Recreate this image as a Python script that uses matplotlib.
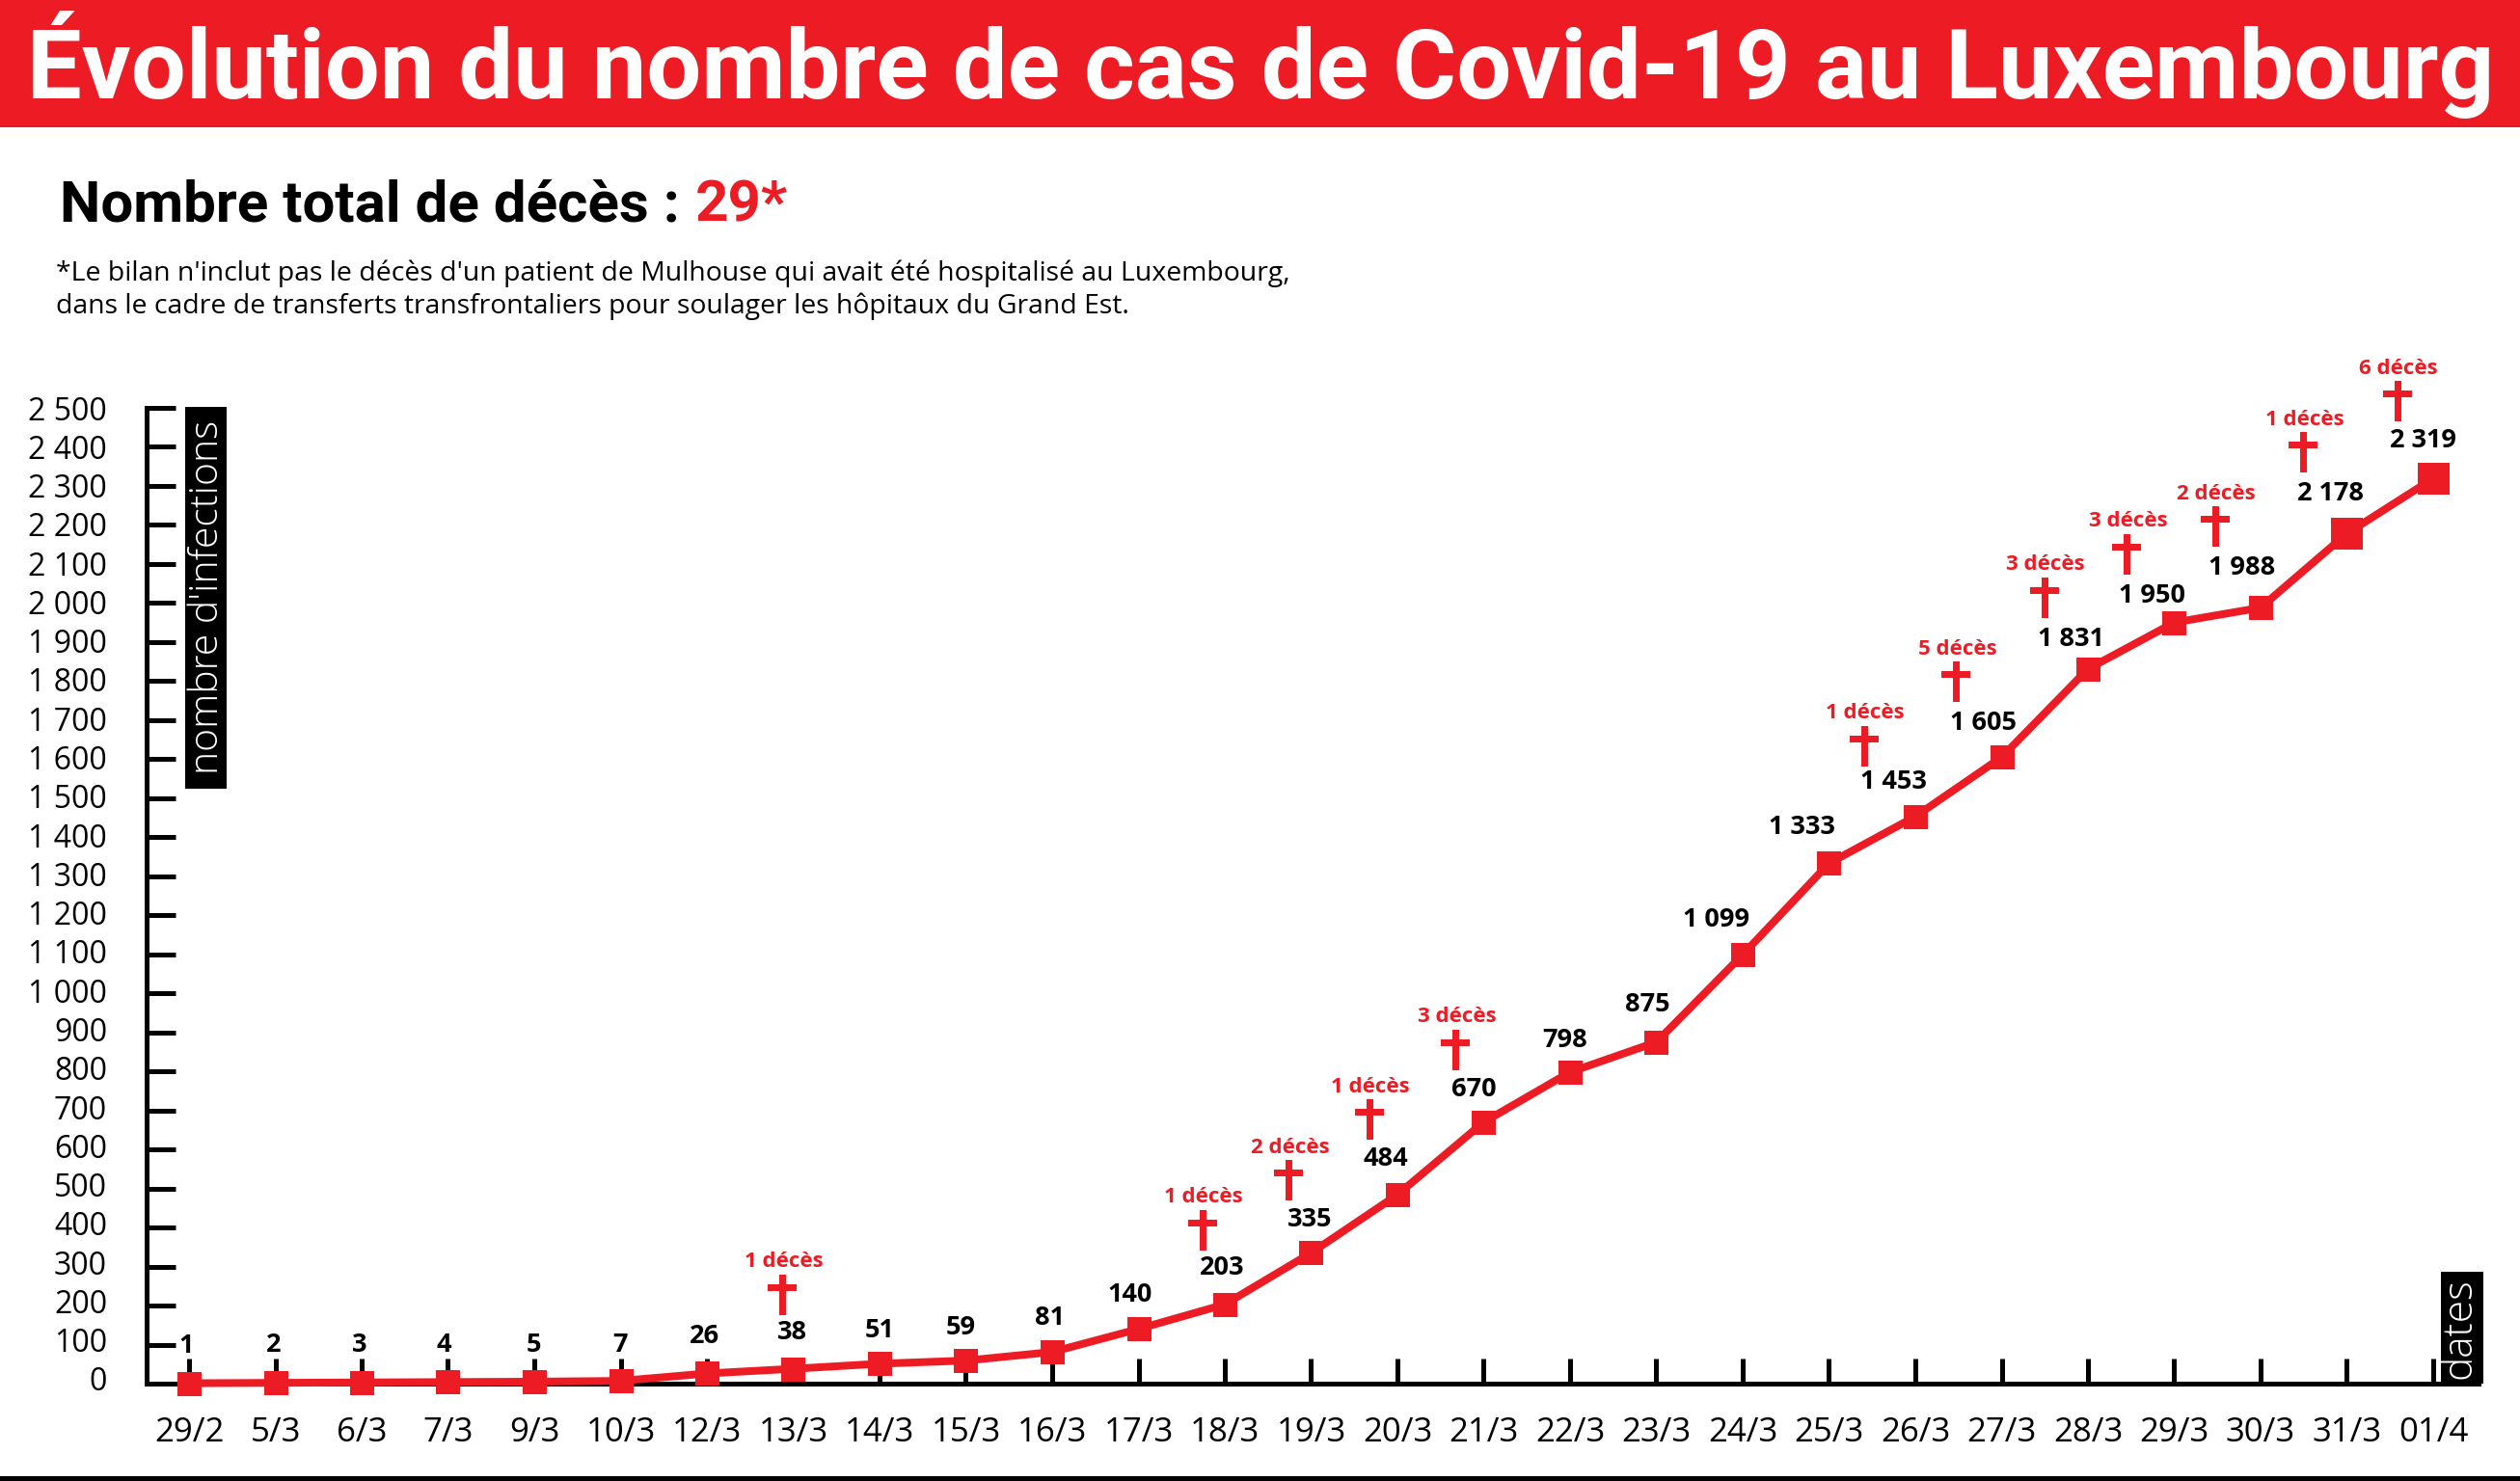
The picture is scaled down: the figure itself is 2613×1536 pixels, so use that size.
import matplotlib
matplotlib.use("Agg")
import matplotlib.pyplot as plt
from matplotlib.path import Path
from matplotlib.patches import Rectangle
from matplotlib.transforms import offset_copy, Affine2D

ROUGE = "#ED1C24"
plt.rcParams['font.family'] = ['Open Sans', 'DejaVu Sans']

dates = ["29/2", "5/3", "6/3", "7/3", "9/3", "10/3", "12/3", "13/3", "14/3",
         "15/3", "16/3", "17/3", "18/3", "19/3", "20/3", "21/3", "22/3", "23/3",
         "24/3", "25/3", "26/3", "27/3", "28/3", "29/3", "30/3", "31/3", "01/4"]
cas = [1, 2, 3, 4, 5, 7, 26, 38, 51, 59, 81, 140, 203, 335, 484, 670, 798, 875,
       1099, 1333, 1453, 1605, 1831, 1950, 1988, 2178, 2319]
cas_txt = ["1", "2", "3", "4", "5", "7", "26", "38", "51", "59", "81", "140",
           "203", "335", "484", "670", "798", "875", "1 099", "1 333", "1 453",
           "1 605", "1 831", "1 950", "1 988", "2 178", "2 319"]
deces_dates = ["13/3", "18/3", "19/3", "20/3", "21/3", "26/3", "27/3", "28/3",
               "29/3", "30/3", "31/3", "01/4"]
deces = [1, 1, 2, 1, 3, 1, 5, 3, 3, 2, 1, 6]
y_ticks = list(range(0, 2600, 100))
y_labels = ["0", "100", "200", "300", "400", "500", "600", "700", "800", "900",
            "1 000", "1 100", "1 200", "1 300", "1 400", "1 500", "1 600", "1 700",
            "1 800", "1 900", "2 000", "2 100", "2 200", "2 300", "2 400", "2 500"]

# decalage des etiquettes par rapport au point, en pixels
dec_val = [(-3, 39), (-2, 39), (-2, 39), (-4, 38), (-1, 38), (0, 37), (-3, 38),
           (-1, 38), (0, 34), (-5, 34), (-3, 35), (-9, 35), (-3, 38), (-1, 34),
           (-12, 37), (-10, 34), (-5, 33), (-9, 39), (-27, 36), (-28, 37),
           (-23, 36), (-19, 35), (-18, 31), (-23, 28), (-19, 41), (-17, 41),
           (-10, 39)]
dec_croix = [(-11, 56), (-23, 56), (-23, 54), (-29, 57), (-29, 54), (-53, 52),
             (-47, 57), (-45, 53), (-49, 50), (-47, 63), (-45, 63), (-37, 59)]

W, H = 2613, 1536
fig = plt.figure(figsize=(W / 100, H / 100), dpi=100)
px = 72 / 100  # un pixel en points

# bandeau du titre
fig.add_artist(Rectangle((0, 1 - 132 / H), 1, 132 / H, transform=fig.transFigure,
                         fc=ROUGE, ec="none"))
fig.text(28 / W, 1 - 102 / H, "Évolution du nombre de cas de Covid-19 au Luxembourg",
         color="white", fontsize=72.6, fontweight="bold", family="Roboto",
         ha="left", va="baseline")
fig.text(62 / W, 1 - 229 / H, "Nombre total de décès :", color="black", fontsize=43.2,
         fontweight="bold", family="Roboto", ha="left", va="baseline")
fig.text(721 / W, 1 - 229 / H, "29*", color=ROUGE, fontsize=43.2, fontweight="bold",
         family="Roboto", ha="left", va="baseline")
fig.text(58 / W, 1 - 291 / H,
         "*Le bilan n'inclut pas le décès d'un patient de Mulhouse qui avait été hospitalisé au Luxembourg,",
         fontsize=20.4, ha="left", va="baseline")
fig.text(58 / W, 1 - 325 / H,
         "dans le cadre de transferts transfrontaliers pour soulager les hôpitaux du Grand Est.",
         fontsize=20.4, ha="left", va="baseline")
fig.add_artist(Rectangle((0, 0), 1, 5 / H, transform=fig.transFigure, fc="black", ec="none"))

# axes : 0 a y=1435px, 2500 a y=423px, premier point x=196px, dernier x=2523px
ax = fig.add_axes([152 / W, (H - 1435) / H, (2570 - 152) / W, 1012 / H])
pas = (2523 - 196) / 26
ax.set_xlim(-(196 - 152) / pas, 26 + (2570 - 2523) / pas)
ax.set_ylim(0, 2500)
ax.patch.set_alpha(0)
for s in ["top", "right"]:
    ax.spines[s].set_visible(False)
for s in ["left", "bottom"]:
    ax.spines[s].set_linewidth(5 * px)

x = list(range(len(dates)))
ax.set_xticks(x, dates)
ax.set_yticks(y_ticks, y_labels)
ax.tick_params(axis="x", direction="in", length=26 * px, width=5 * px, pad=34 * px,
               labelsize=25)
ax.tick_params(axis="y", direction="in", length=30 * px, width=5 * px, pad=41 * px,
               labelsize=23)
# les etiquettes de l'axe y sont un peu plus haut que les tirets en bas de l'axe
for v, lab in zip(y_ticks, ax.get_yticklabels()):
    lab.set_transform(lab.get_transform() + Affine2D().translate(0, 5 * (1 - v / 2500)))

# boites noires
ax.add_artist(Rectangle((192 / W, (H - 818) / H), 43 / W, 396 / H, transform=fig.transFigure,
                        fc="black", ec="none", clip_on=False))
fig.text(215 / W, (H - 619) / H, "nombre d'infections", color="white", fontsize=29.5,
         fontweight="light", rotation=90, ha="center", va="center")
ax.add_artist(Rectangle((2531 / W, (H - 1435) / H), 44 / W, 116 / H, transform=fig.transFigure,
                        fc="black", ec="none", clip_on=False))
fig.text(2550 / W, (H - 1378) / H, "dates", color="white", fontsize=30.5,
         fontweight="light", rotation=90, ha="center", va="center")

# courbe
ax.plot(x, cas, color=ROUGE, lw=8 * px, marker="s", ms=25 * px, mew=0, clip_on=False, zorder=5)
ax.plot(x[-2:], cas[-2:], color=ROUGE, ls="none", marker="s", ms=33 * px, mew=0,
        clip_on=False, zorder=5)

for i, t in enumerate(cas_txt):
    ax.annotate(t, (x[i], cas[i]), xytext=(dec_val[i][0] * px, dec_val[i][1] * px),
                textcoords="offset points", ha="center", va="center", fontsize=19.5,
                fontweight="bold", color="black", zorder=6, annotation_clip=False)

# croix : centre en (0,0), hauteur 42 px, barre 30 px
croix = Path([(-3.5, -21), (3.5, -21), (3.5, 4.5), (15, 4.5), (15, 11.5), (3.5, 11.5),
              (3.5, 21), (-3.5, 21), (-3.5, 11.5), (-15, 11.5), (-15, 4.5), (-3.5, 4.5),
              (-3.5, -21)], closed=True)
for d, n, (dx, dy) in zip(deces_dates, deces, dec_croix):
    i = dates.index(d)
    tr = offset_copy(ax.transData, fig=fig, x=dx * px, y=(dy + 21) * px, units="points")
    ax.plot([x[i]], [cas[i]], marker=croix, ms=42 * px, mew=0, color=ROUGE, transform=tr,
            clip_on=False, zorder=6)
    ax.annotate(f"{n} décès", (x[i], cas[i]), xytext=((dx + 1) * px, (dy + 55) * px),
                textcoords="offset points", ha="center", va="center", fontsize=16,
                fontweight="bold", color=ROUGE, zorder=6, annotation_clip=False)

fig.savefig("out.png", dpi=100)
